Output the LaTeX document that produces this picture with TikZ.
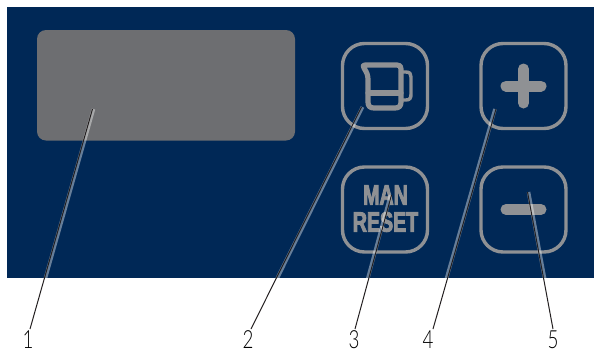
\documentclass[tikz,border=0pt]{standalone}
\usepackage{fontspec}
\setmainfont{Liberation Sans}
\newfontfamily\numfont[FakeStretch=0.75]{Lato Light}
\newfontfamily\keyfont[FakeStretch=0.7,FakeBold=3]{Liberation Sans Bold}
\definecolor{panelblue}{HTML}{002856}
\definecolor{dispgray}{HTML}{6D6E71}
\definecolor{keygray}{HTML}{8F9194}
\definecolor{leaderdark}{HTML}{231F20}
\tikzset{
  panel/.style={fill=panelblue,draw=none},
  keybox/.style={draw=keygray,line width=3.4pt,rounded corners=22pt},
  keyline/.style={draw=keygray,line cap=round,line join=round},
  keytext/.style={text=keygray,font=\keyfont\fontsize{28}{28}\selectfont,inner sep=0pt},
  numlabel/.style={text=black,font=\numfont\fontsize{25}{25}\selectfont,inner sep=0pt,anchor=south},
  leader/.style={draw=leaderdark,line width=1pt},
  halo/.style={draw=white,opacity=.4,line width=3.6pt}
}
\begin{document}
\begin{tikzpicture}[x=1pt,y=-1pt]
\useasboundingbox (0,0) rectangle (594,351);
\fill[panel] (7,7) rectangle (594,278);
\fill[dispgray,rounded corners=9pt] (37,30) rectangle (295,140.5);
% keys
\draw[keybox] (342.5,43.5) rectangle (427.5,128.5);
\draw[keybox] (342.5,167) rectangle (427.5,252);
\draw[keybox] (481,43.5) rectangle (566,128.5);
\draw[keybox] (481,167) rectangle (566,252);
% jug
\draw[keyline,line width=5.2pt] (401,69) .. controls (401,66) and (400,65) .. (397,65) -- (365,65) .. controls (363,65) and (363,66) .. (364,68) .. controls (367,73) and (368,75) .. (368,80) -- (368,102) .. controls (368,106) and (370,108) .. (374,108) -- (395,108) .. controls (399,108) and (401,106) .. (401,102) -- cycle;
\draw[keyline,line width=5.2pt] (368,93) -- (401,93);
\draw[keyline,line width=3.4pt] (402,72) -- (406,72) .. controls (410,72) and (411,74) .. (411,77) -- (411,94) .. controls (411,98) and (410,100) .. (406,100) -- (402,100);
% plus, minus
\draw[keyline,line width=11pt] (506,86) -- (541,86);
\draw[keyline,line width=11pt] (523.5,69) -- (523.5,103);
\draw[keyline,line width=11pt] (506,209.5) -- (541,209.5);
% text
\node[keytext] (man) at (385.5,195) {MAN};
\node[keytext] (reset) at (385.5,222) {RESET};
% labels
\node[numlabel] (n1) at (28,349) {1};
\node[numlabel] (n2) at (248,349) {2};
\node[numlabel] (n3) at (354,349) {3};
\node[numlabel] (n4) at (428,349) {4};
\node[numlabel] (n5) at (553,349) {5};
\coordinate (t1) at (92.5,109);
\coordinate (t2) at (361.5,107);
\coordinate (t3) at (391.5,195);
\coordinate (t4) at (496,109);
\coordinate (t5) at (527.5,192);
\coordinate (b1) at (30,329);
\coordinate (b2) at (251,329);
\coordinate (b3) at (355,329);
\coordinate (b4) at (433,329);
\coordinate (b5) at (553,329);
% halos only over the panel
\begin{scope}
\clip (7,7) rectangle (594,278);
\draw[halo] ([xshift=1pt]t1) -- ([xshift=1pt]b1);
\draw[halo] ([xshift=1pt]t2) -- ([xshift=1pt]b2);
\draw[halo] ([xshift=-1pt]t3) -- ([xshift=-1pt]b3);
\draw[halo] ([xshift=-1pt]t4) -- ([xshift=-1pt]b4);
\draw[halo] ([xshift=1pt]t5) -- ([xshift=1pt]b5);
\end{scope}
\draw[leader] (t1) -- (b1);
\draw[leader] (t2) -- (b2);
\draw[leader] (t3) -- (b3);
\draw[leader] (t4) -- (b4);
\draw[leader] (t5) -- (b5);
\end{tikzpicture}
\end{document}
